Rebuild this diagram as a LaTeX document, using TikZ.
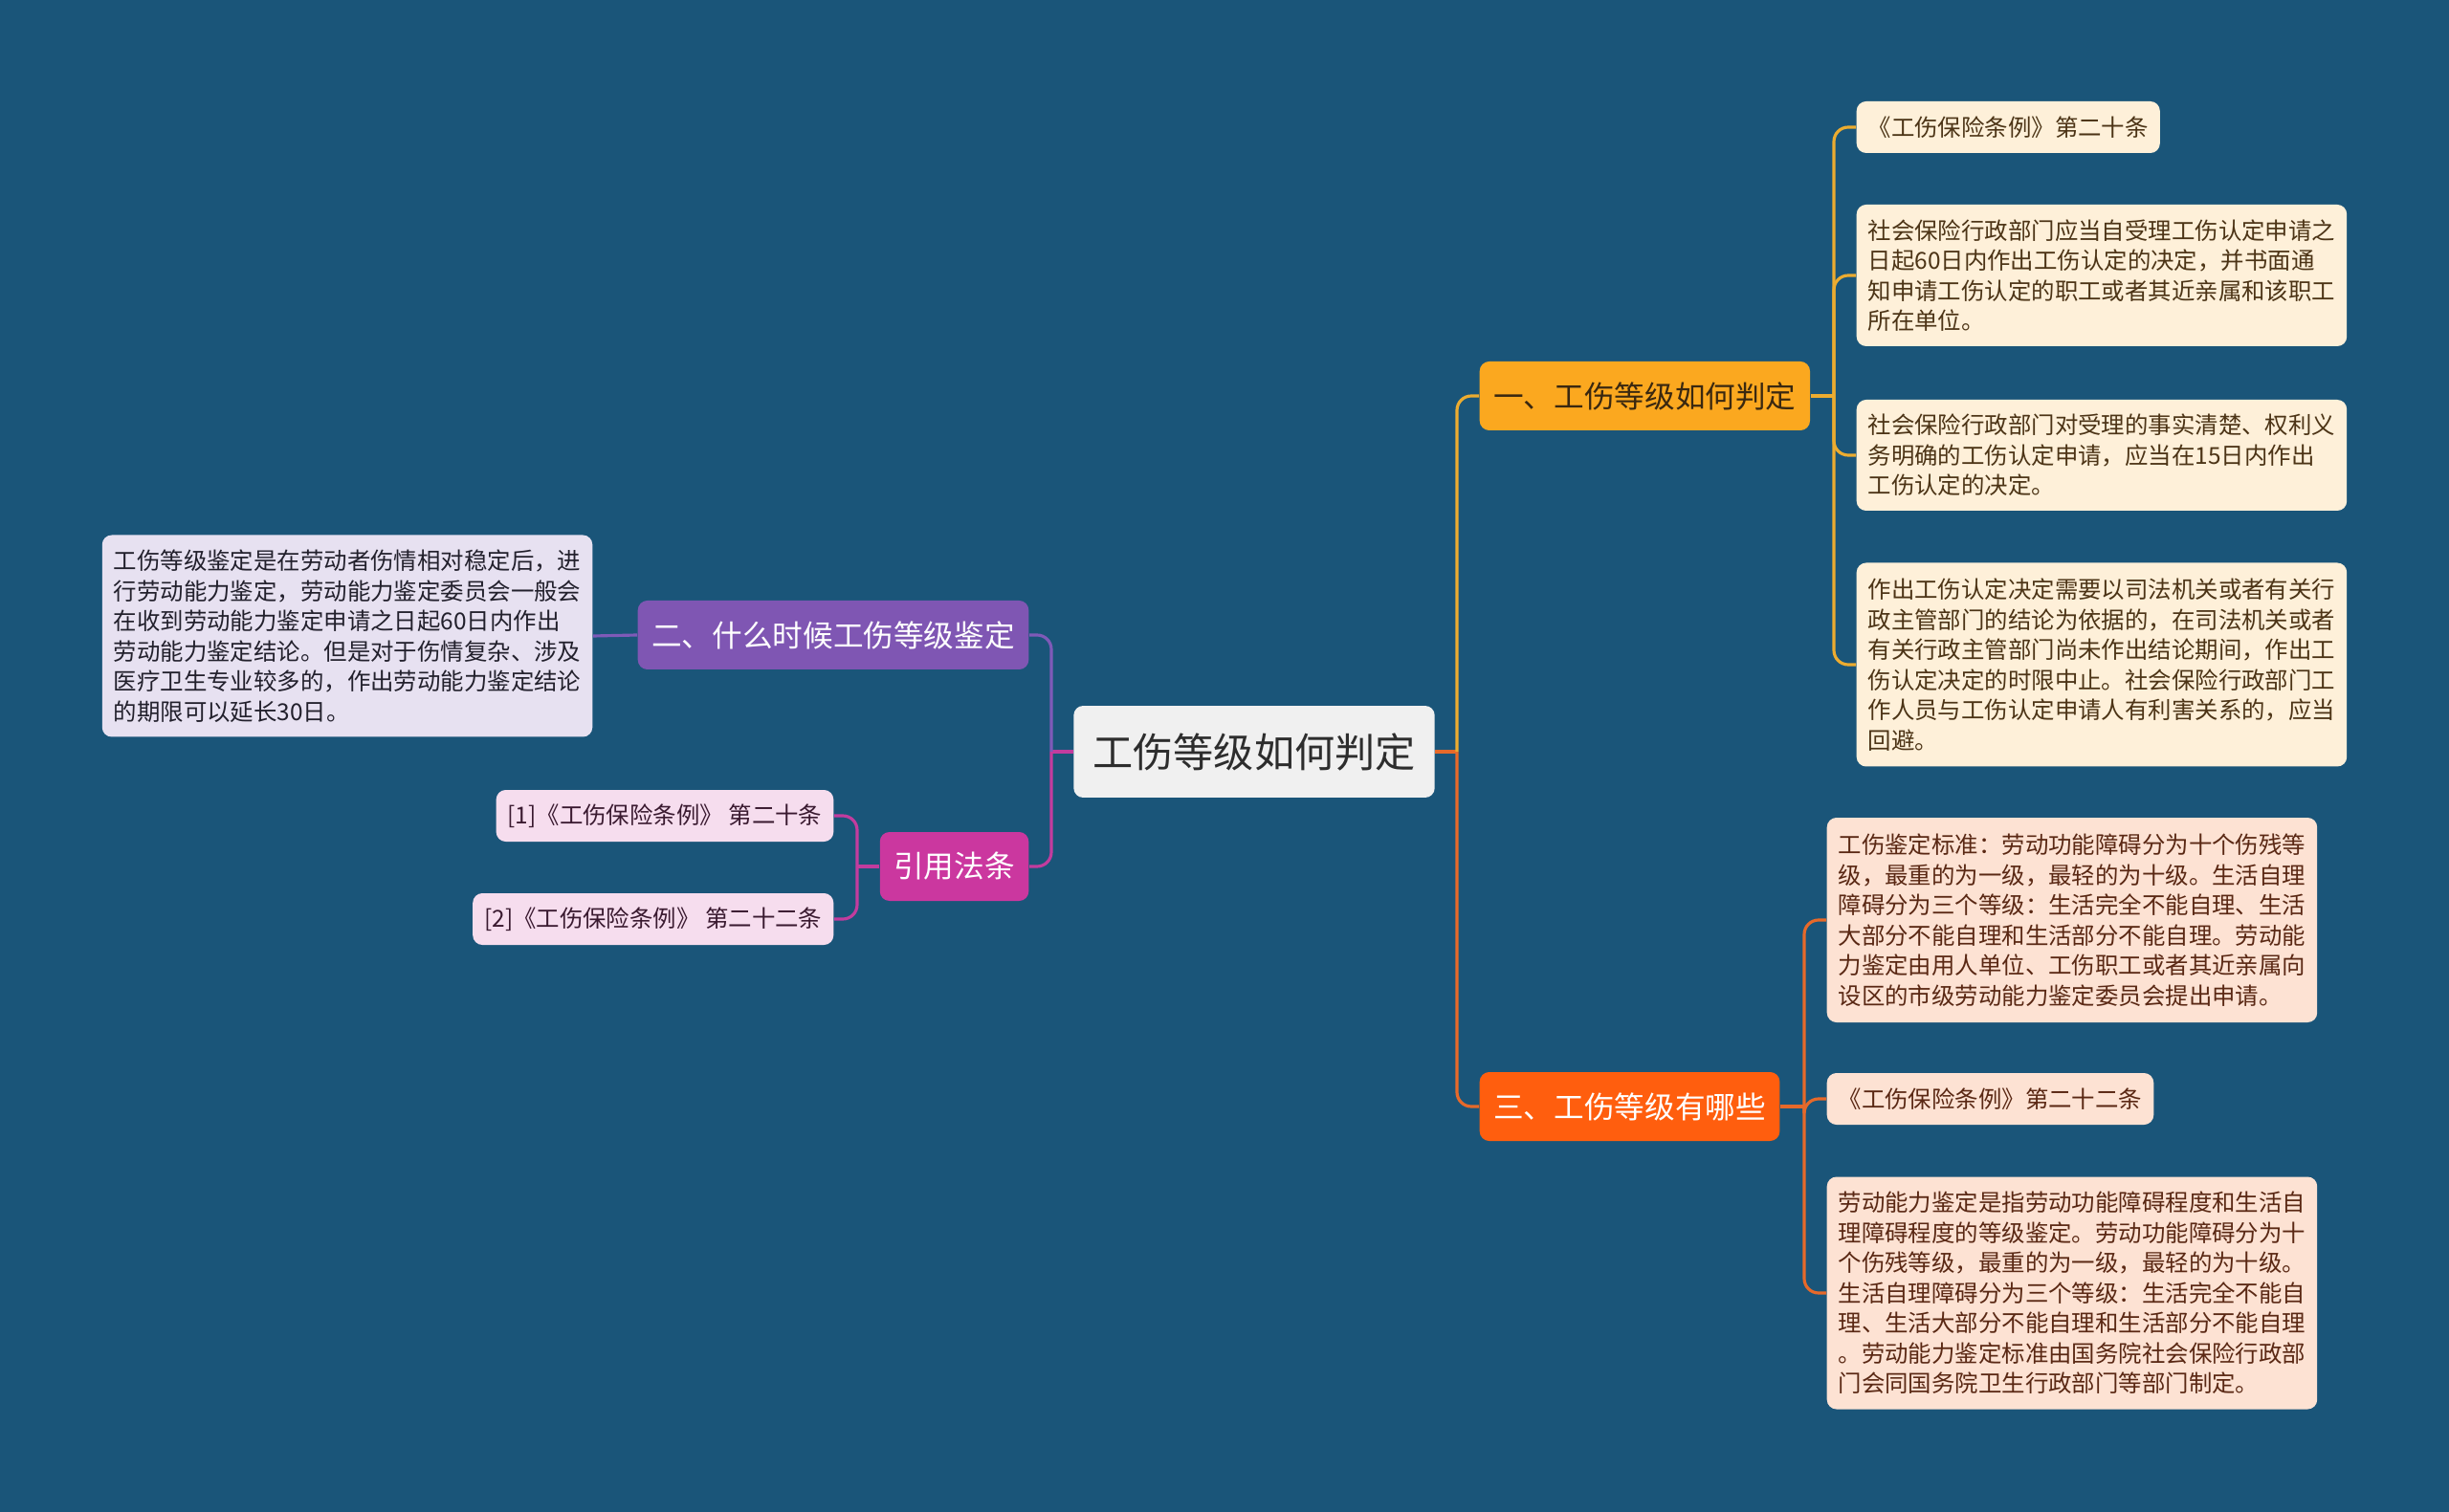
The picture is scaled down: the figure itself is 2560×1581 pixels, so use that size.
\documentclass[tikz,border=0pt]{standalone}
\usepackage{fontspec}
\setmainfont{Noto Sans CJK SC}
\usepackage{tikz}
\usetikzlibrary{positioning}
\definecolor{bgblue}{RGB}{26,85,121}
\definecolor{rootfill}{RGB}{240,240,240}
\definecolor{roottext}{RGB}{45,45,45}
\definecolor{onefill}{RGB}{251,168,31}
\definecolor{onetext}{RGB}{58,40,16}
\definecolor{oneline}{RGB}{236,172,48}
\definecolor{onepale}{RGB}{254,240,217}
\definecolor{onedark}{RGB}{76,52,22}
\definecolor{twofill}{RGB}{127,86,179}
\definecolor{twoline}{RGB}{126,90,184}
\definecolor{twopale}{RGB}{231,225,241}
\definecolor{twodark}{RGB}{34,32,44}
\definecolor{threefill}{RGB}{255,94,14}
\definecolor{threeline}{RGB}{230,105,42}
\definecolor{threepale}{RGB}{253,226,211}
\definecolor{threedark}{RGB}{90,40,20}
\definecolor{citefill}{RGB}{203,55,159}
\definecolor{citeline}{RGB}{194,60,158}
\definecolor{citepale}{RGB}{246,221,238}
\definecolor{citedark}{RGB}{58,26,48}

\begin{document}
\begin{tikzpicture}[x=0.1mm, y=-0.1mm,
    box/.style={rounded corners=1mm, align=left, inner ysep=0pt},
    rootbox/.style={box, fill=rootfill, text=roottext, font=\fontsize{12pt}{14pt}\selectfont, inner xsep=2mm, minimum height=9.6mm},
    branch/.style={box, font=\fontsize{9pt}{11pt}\selectfont, inner xsep=1.45mm, minimum height=7.2mm},
    leaf/.style={box, font=\fontsize{6.95pt}{8.96pt}\selectfont, inner xsep=1.2mm},
    link/.style={line width=0.9pt, rounded corners=1.5mm}]
    \fill[bgblue] (0,0) rectangle (2560,1581);
    % centro
    \node[rootbox] (root) at (1311,786) {工伤等级如何判定};
    \node[branch, fill=onefill, text=onetext, anchor=west] (one) at (1546,414) {一、工伤等级如何判定};
    \node[branch, fill=threefill, text=white, anchor=west] (three) at (1546,1157) {三、工伤等级有哪些};
    \node[branch, fill=twofill, text=white, anchor=east] (two) at (1076,664) {二、什么时候工伤等级鉴定};
    \node[branch, fill=citefill, text=white, anchor=east] (cite) at (1076,906) {引用法条};
    % folhas de um
    \node[leaf, fill=onepale, text=onedark, anchor=west, minimum height=5.4mm] (onea) at (1940,133) {《工伤保险条例》第二十条};
    \node[leaf, fill=onepale, text=onedark, anchor=west, minimum height=14.8mm] (oneb) at (1940,288)
      {社会保险行政部门应当自受理工伤认定申请之\\日起60日内作出工伤认定的决定，并书面通\\知申请工伤认定的职工或者其近亲属和该职工\\所在单位。};
    \node[leaf, fill=onepale, text=onedark, anchor=west, minimum height=11.6mm] (onec) at (1940,476)
      {社会保险行政部门对受理的事实清楚、权利义\\务明确的工伤认定申请，应当在15日内作出\\工伤认定的决定。};
    \node[leaf, fill=onepale, text=onedark, anchor=west, minimum height=21.3mm] (oned) at (1940,695)
      {作出工伤认定决定需要以司法机关或者有关行\\政主管部门的结论为依据的，在司法机关或者\\有关行政主管部门尚未作出结论期间，作出工\\伤认定决定的时限中止。社会保险行政部门工\\作人员与工伤认定申请人有利害关系的，应当\\回避。};
    % folhas de tres
    \node[leaf, fill=threepale, text=threedark, anchor=west, minimum height=21.4mm] (threea) at (1909,962)
      {工伤鉴定标准：劳动功能障碍分为十个伤残等\\级，最重的为一级，最轻的为十级。生活自理\\障碍分为三个等级：生活完全不能自理、生活\\大部分不能自理和生活部分不能自理。劳动能\\力鉴定由用人单位、工伤职工或者其近亲属向\\设区的市级劳动能力鉴定委员会提出申请。};
    \node[leaf, fill=threepale, text=threedark, anchor=west, minimum height=5.4mm] (threeb) at (1909,1149) {《工伤保险条例》第二十二条};
    \node[leaf, fill=threepale, text=threedark, anchor=west, minimum height=24.3mm] (threec) at (1909,1352)
      {劳动能力鉴定是指劳动功能障碍程度和生活自\\理障碍程度的等级鉴定。劳动功能障碍分为十\\个伤残等级，最重的为一级，最轻的为十级。\\生活自理障碍分为三个等级：生活完全不能自\\理、生活大部分不能自理和生活部分不能自理\\。劳动能力鉴定标准由国务院社会保险行政部\\门会同国务院卫生行政部门等部门制定。};
    % lado esquerdo
    \node[leaf, fill=twopale, text=twodark, anchor=east, minimum height=21.1mm] (twoa) at (620,665)
      {工伤等级鉴定是在劳动者伤情相对稳定后，进\\行劳动能力鉴定，劳动能力鉴定委员会一般会\\在收到劳动能力鉴定申请之日起60日内作出\\劳动能力鉴定结论。但是对于伤情复杂、涉及\\医疗卫生专业较多的，作出劳动能力鉴定结论\\的期限可以延长30日。};
    \node[leaf, fill=citepale, text=citedark, anchor=east, minimum height=5.4mm] (citea) at (872,853) {[1]《工伤保险条例》 第二十条};
    \node[leaf, fill=citepale, text=citedark, anchor=east, minimum height=5.4mm] (citeb) at (872,961) {[2]《工伤保险条例》 第二十二条};
    % ligacoes
    \coordinate (rjoin) at (1523,786);
    \coordinate (ljoin) at (1099,786);
    \draw[link, threeline] (root.east) -- (rjoin);
    \draw[link, threeline] (rjoin) |- (three.west);
    \draw[link, oneline] (rjoin) |- (one.west);
    \draw[link, citeline] (root.west) -- (ljoin);
    \draw[link, citeline] (ljoin) |- (cite.east);
    \draw[link, twoline] (ljoin) |- (two.east);
    \coordinate (onejoin) at (1917,414);
    \draw[link, oneline] (one.east) -- (onejoin);
    \draw[link, oneline] (onejoin) |- (onea.west);
    \draw[link, oneline] (onejoin) |- (oneb.west);
    \draw[link, oneline] (onejoin) |- (onec.west);
    \draw[link, oneline] (onejoin) |- (oned.west);
    \coordinate (threejoin) at (1886,1157);
    \draw[link, threeline] (three.east) -- (threejoin);
    \draw[link, threeline] (threejoin) |- (threea.west);
    \draw[link, threeline] (threejoin) |- (threeb.west);
    \draw[link, threeline] (threejoin) |- (threec.west);
    \draw[link, twoline] (two.west) -- (twoa.east);
    \coordinate (citejoin) at (896,906);
    \draw[link, citeline] (cite.west) -- (citejoin);
    \draw[link, citeline] (citejoin) |- (citea.east);
    \draw[link, citeline] (citejoin) |- (citeb.east);
\end{tikzpicture}
\end{document}
